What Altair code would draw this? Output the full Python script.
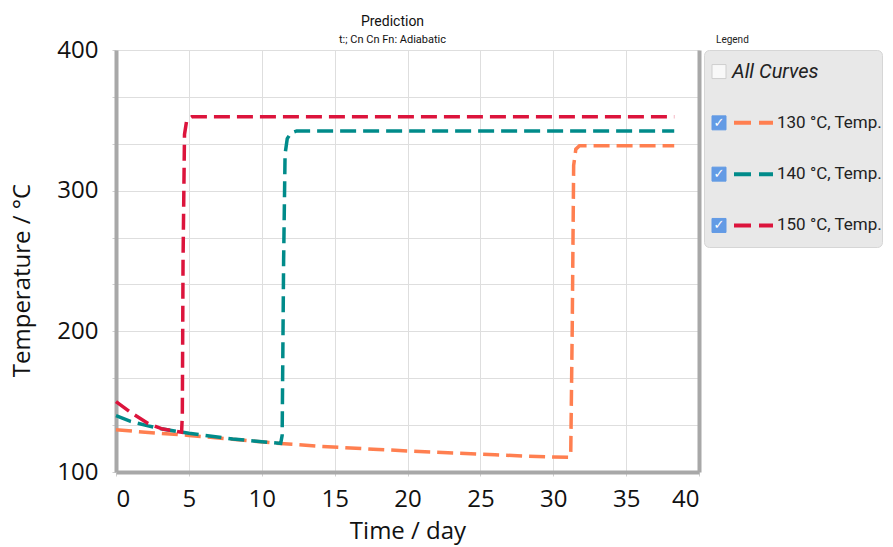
import altair as alt
import pandas as pd

# ---------------- data ----------------
series_names = ["130 °C, Temp.", "140 °C, Temp.", "150 °C, Temp."]
series_colors = ["#FF7F50", "#008B8A", "#DC143C"]

t130 = [0, 2, 5, 8, 11, 14, 18, 22, 26, 30, 31.1, 31.2, 31.3, 31.4, 31.55, 31.8, 38.3]
v130 = [130, 128.3, 126, 123.3, 120.5, 118.3, 116, 114, 112.2, 110.6, 110.4, 113, 200, 318, 329.5, 332, 332]

t140 = [0, 1, 2.2, 3.2, 5, 8, 11.3, 11.4, 11.5, 11.6, 11.75, 12.0, 12.4, 38.3]
v140 = [140, 136, 132.8, 130.5, 127.5, 123.5, 120.3, 126, 250, 326, 337, 341, 342.5, 342.5]

t150 = [0, 1, 2.2, 3.2, 4.5, 4.55, 4.6, 4.7, 4.85, 5.2, 38.3]
v150 = [150, 142.5, 134.5, 130.5, 128.3, 140, 250, 340, 350, 352.5, 352.5]

x_ticks = [0, 5, 10, 15, 20, 25, 30, 35, 40]
y_grid = [100 + 100 * k / 3 for k in range(10)]

legend_items = ["All Curves"] + series_names
legend_checked = [False, True, True, True]

rows = []
for name, ts, vs in zip(series_names, [t130, t140, t150], [v130, v140, v150]):
    for t, v in zip(ts, vs):
        rows.append({"series": name, "t": t, "value": v})
df = pd.DataFrame(rows)

leg = pd.DataFrame({"item": legend_items, "checked": legend_checked})

color_scale = alt.Scale(domain=series_names, range=series_colors)

AX_FONT = "Open Sans"
x_enc = alt.X(
    "t:Q",
    scale=alt.Scale(domain=[0, 40], nice=False),
    axis=alt.Axis(
        title="Time / day", values=x_ticks, grid=True, gridColor="#dedede",
        domainColor="#a8a8a8", domainWidth=4, tickColor="#cfcfcf", tickSize=4,
        labelFontSize=24, labelFont=AX_FONT, labelColor="#111", labelPadding=11,
        titleFontSize=24, titleFont=AX_FONT, titleFontWeight="normal", titleColor="#111",
        titlePadding=8,
    ),
)
y_left = alt.Y(
    "value:Q",
    scale=alt.Scale(domain=[100, 400], nice=False, zero=False),
    axis=alt.Axis(
        title="Temperature / °C", values=y_grid, grid=True, gridColor="#dedede",
        labelExpr="datum.value % 100 === 0 ? datum.label : ''",
        domainColor="#a8a8a8", domainWidth=4, tickColor="#cfcfcf", tickSize=4,
        labelFontSize=24, labelFont=AX_FONT, labelColor="#111", labelPadding=14,
        titleFontSize=24, titleFont=AX_FONT, titleFontWeight="normal", titleColor="#111",
        titlePadding=22, titleY=230,
    ),
)
y_right = alt.Y(
    "value:Q",
    scale=alt.Scale(domain=[100, 400], nice=False, zero=False),
    axis=alt.Axis(
        orient="right", title=None, labels=False, ticks=False, grid=False,
        domainColor="#a8a8a8", domainWidth=4,
    ),
)

lines = alt.Chart(df).mark_line(strokeWidth=3.5, strokeDash=[16, 7]).encode(
    x=x_enc,
    y=y_left,
    color=alt.Color("series:N", scale=color_scale, legend=None),
    detail="series:N",
)
right_axis = alt.Chart(df).mark_line(opacity=0).encode(x="t:Q", y=y_right, detail="series:N")

main = alt.layer(lines, right_axis).resolve_axis(y="independent").properties(
    width=583,
    height=422,
    title=alt.Title(
        "Prediction", subtitle="t:; Cn Cn Fn: Adiabatic", fontSize=14, subtitleFontSize=11,
        font="Roboto", subtitleFont="Roboto", fontWeight="normal", color="#111",
        subtitleColor="#111", anchor="middle", dx=-15, offset=-7, subtitlePadding=5,
    ),
)

# ---------------- legend panel ----------------
y_leg = alt.Y("item:N", sort=legend_items, scale=alt.Scale(type="point", padding=0.42), axis=None)
base = alt.Chart(leg)
boxes = base.mark_point(shape="square", filled=True, size=196, strokeWidth=1).encode(
    x=alt.value(15), y=y_leg,
    fill=alt.condition("datum.checked", alt.value("#2B7BE4"), alt.value("#ffffff")),
    stroke=alt.condition("datum.checked", alt.value("#2B7BE4"), alt.value("#c4c4c4")),
)
checks = base.transform_filter("datum.checked").mark_text(
    text="✓", color="white", fontSize=13, fontWeight="bold", font="DejaVu Sans"
).encode(x=alt.value(15), y=y_leg)
dashes = base.transform_filter("datum.checked").mark_rule(strokeWidth=4, strokeDash=[17, 8]).encode(
    x=alt.value(30), x2=alt.value(69), y=y_leg,
    color=alt.Color("item:N", scale=color_scale, legend=None),
)
labels = base.transform_filter("datum.checked").mark_text(
    align="left", baseline="middle", fontSize=17, font="Roboto", color="#222"
).encode(x=alt.value(73), y=y_leg, text="item:N")
all_label = base.transform_filter("!datum.checked").mark_text(
    align="left", baseline="middle", fontSize=20, font="Roboto", fontStyle="italic", color="#222"
).encode(x=alt.value(28), y=y_leg, text="item:N")

legend_panel = alt.layer(boxes, checks, dashes, labels, all_label).properties(
    width=178,
    height=197,
    view=alt.ViewBackground(fill="#e8e8e8", stroke="#d6d6d6", strokeWidth=1, cornerRadius=5),
    title=alt.Title("Legend", anchor="start", fontSize=10, font="Roboto", fontWeight="normal",
                    color="#222", dx=12, offset=5),
)

chart = alt.hconcat(main, legend_panel, spacing=3).properties(
    padding={"left": 2, "top": 7, "right": 0, "bottom": 3}
).configure_view(strokeWidth=0)

chart.save("out.html", embed_options={"renderer": "svg", "actions": False})
